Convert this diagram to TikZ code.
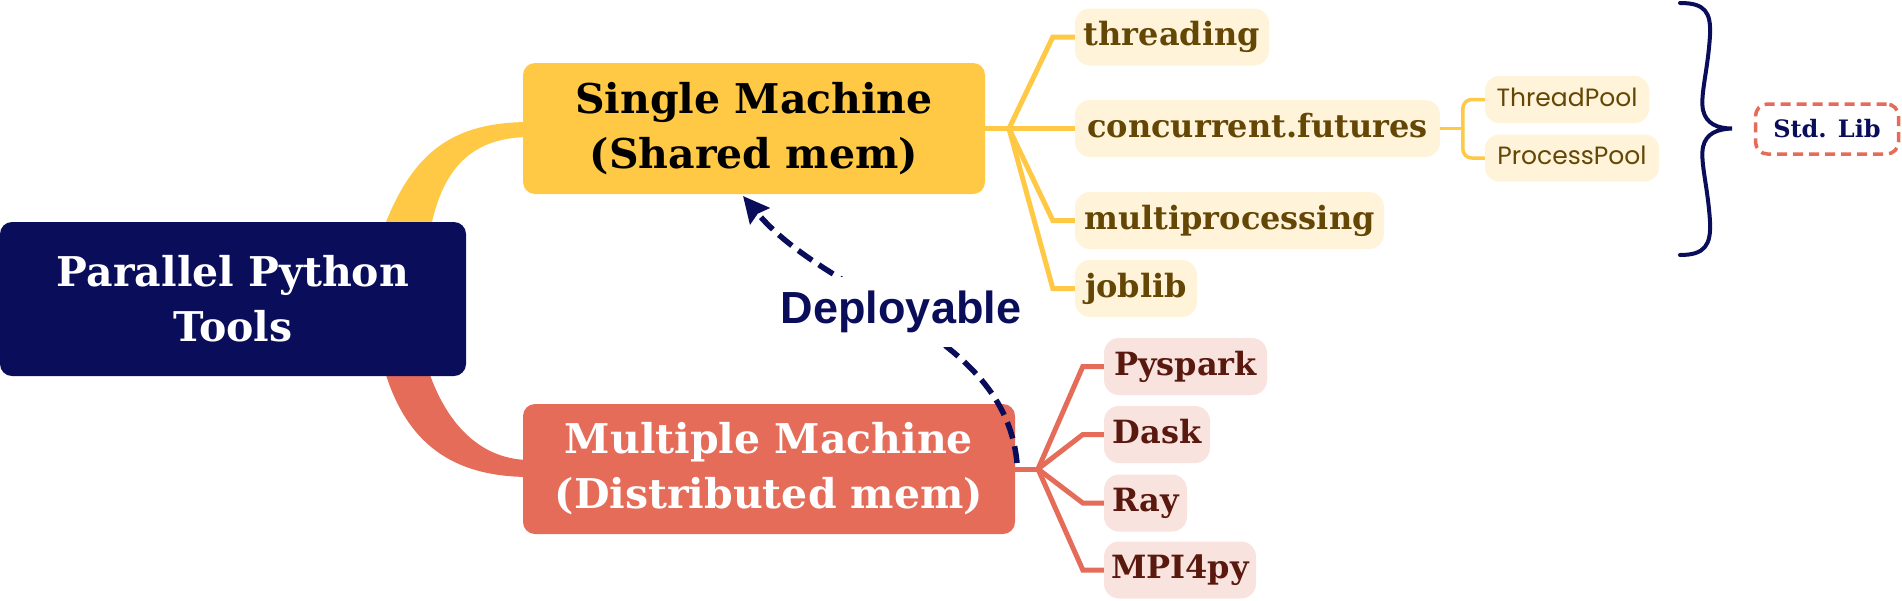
\documentclass[tikz,border=0pt]{standalone}
\usepackage{fontspec}
\newfontfamily\djs{DejaVu Serif}
\newfontfamily\libsans{Liberation Sans}
\newfontfamily\pop{Poppins}
\usetikzlibrary{arrows.meta}
\definecolor{cnavy}{RGB}{10,14,90}
\definecolor{cyel}{RGB}{255,200,69}
\definecolor{ccoral}{RGB}{228,108,89}
\definecolor{cyellight}{RGB}{255,243,217}
\definecolor{cbrown}{RGB}{100,70,5}
\definecolor{ccorallight}{RGB}{249,227,222}
\definecolor{cdarkred}{RGB}{90,25,15}
\tikzset{
  mainbox/.style={rounded corners=12pt, inner sep=0pt, align=center,
    font=\djs\bfseries\fontsize{41}{55}\selectfont},
  ychild/.style={fill=cyellight, text=cbrown, rounded corners=15pt, inner sep=0pt,
    minimum height=57pt, text height=24pt, text depth=7pt,
    font=\djs\bfseries\fontsize{32}{38}\selectfont},
  cchild/.style={ychild, fill=ccorallight, text=cdarkred},
  ysubbox/.style={fill=cyellight, text=cbrown, rounded corners=14pt, inner sep=0pt,
    minimum height=47pt, text height=18pt, text depth=5pt,
    font=\pop\fontsize{25}{30}\selectfont},
  yline/.style={draw=cyel, line width=5pt},
  cline/.style={draw=ccoral, line width=5pt},
  ysubline/.style={draw=cyel, line width=3.5pt, rounded corners=9pt},
}
\begin{document}
\begin{tikzpicture}[x=1pt, y=-1pt]
\useasboundingbox (0,0) rectangle (1902,600);

% tapered branches
\fill[cyel] (386,240) -- (386,222) .. controls (415,150) and (455,122) .. (530,122)
  -- (530,137) .. controls (475,137) and (445,165) .. (432,222) -- (432,240) -- cycle;
\fill[ccoral] (386,360) -- (386,375) .. controls (410,450) and (460,477) .. (530,477)
  -- (530,460) .. controls (485,460) and (450,430) .. (430,375) -- (430,360) -- cycle;

% main boxes
\node[mainbox, fill=cnavy, text=white, minimum width=466pt, minimum height=154pt]
  (root) at (233,299) {Parallel Python\\Tools};
\node[mainbox, fill=cyel, text=black, minimum width=462pt, minimum height=131pt]
  (single) at (754,128.5) {Single Machine\\(Shared mem)};
\node[mainbox, fill=ccoral, text=white, minimum width=492pt, minimum height=130pt]
  (multi) at (769,469) {Multiple Machine\\(Distributed mem)};

% yellow children
\node[ychild, minimum width=194pt] (thr) at (1172,37) {threading};
\node[ychild, minimum width=365pt] (cf) at (1257.5,128.5) {concurrent.futures};
\node[ychild, minimum width=309pt] (mp) at (1229.5,220.5) {multiprocessing};
\node[ychild, minimum width=122pt] (jl) at (1136,288.5) {joblib};
\node[ysubbox, minimum width=164pt] (tp) at (1567,99.5) {ThreadPool};
\node[ysubbox, minimum width=174pt] (pp) at (1572,158) {ProcessPool};

\coordinate (yhub) at (1009,128.5);
\draw[yline] (single.east) -- (yhub);
\draw[yline] (yhub) -- ([xshift=-22pt]thr.west) -- (thr.west);
\draw[yline] (yhub) -- (cf.west);
\draw[yline] (yhub) -- ([xshift=-22pt]mp.west) -- (mp.west);
\draw[yline] (yhub) -- ([xshift=-22pt]jl.west) -- (jl.west);

\coordinate (shub) at (1463,128.5);
\draw[ysubline] (cf.east) -- (shub);
\draw[ysubline] (tp.west) -- ([xshift=-22pt]tp.west) |- (pp.west);

% coral children
\node[cchild, minimum width=163pt] (ps) at (1185.5,366.5) {Pyspark};
\node[cchild, minimum width=106pt] (dk) at (1157,434.5) {Dask};
\node[cchild, minimum width=83pt] (ray) at (1145.5,503) {Ray};
\node[cchild, minimum width=152pt] (mpi) at (1180,570) {MPI4py};

\coordinate (chub) at (1038,469);
\draw[cline] (multi.east) -- (chub);
\draw[cline] (chub) -- ([xshift=-21pt]ps.west) -- (ps.west);
\draw[cline] (chub) -- ([xshift=-21pt]dk.west) -- (dk.west);
\draw[cline] (chub) -- ([xshift=-21pt]ray.west) -- (ray.west);
\draw[cline] (chub) -- ([xshift=-21pt]mpi.west) -- (mpi.west);

% deployable arrow
\coordinate (dstart) at (1017,463);
\coordinate (dend) at (743,196);
\draw[cnavy, line width=5.5pt, dash pattern=on 17pt off 8pt,
  -{Stealth[length=26pt, width=25pt, inset=3pt]}]
  (dstart) .. controls (1005,330) and (830,300) .. (dend);
\node[fill=white, inner xsep=4pt, inner ysep=14pt, text=cnavy,
  font=\libsans\bfseries\fontsize{45}{50}\selectfont] (dep) at (901,312) {Deployable};

% brace
\draw[cnavy, line width=4pt, line cap=round]
  (1680,3) .. controls (1705,3) and (1711,12) .. (1710,35)
  .. controls (1708,70) and (1700,95) .. (1703,110)
  .. controls (1706,124) and (1718,128.5) .. (1732,128.5)
  .. controls (1718,129) and (1706,133) .. (1703,147)
  .. controls (1700,162) and (1708,187) .. (1710,222)
  .. controls (1711,245) and (1705,255) .. (1680,255);

% std lib
\node[draw=ccoral, line width=3.5pt, dash pattern=on 10pt off 6pt, rounded corners=12pt,
  minimum width=143pt, minimum height=50pt, inner sep=0pt, text=cnavy,
  font=\djs\bfseries\fontsize{24}{28}\selectfont] (std) at (1827,129) {Std. Lib};
\end{tikzpicture}
\end{document}
